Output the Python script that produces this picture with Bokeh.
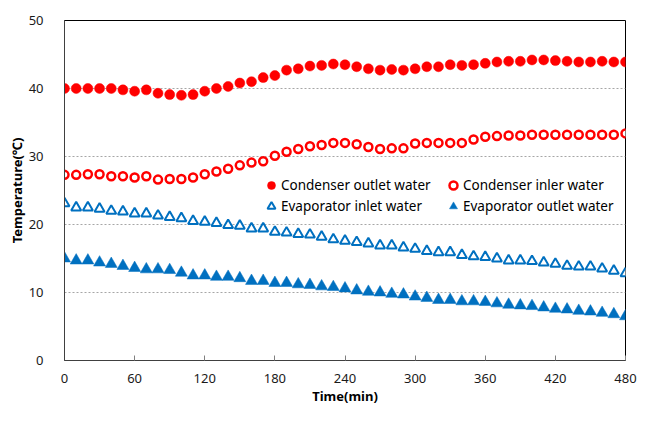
from bokeh.plotting import figure
from bokeh.models import ColumnDataSource, Legend, LegendItem, FixedTicker, Range1d
from bokeh.embed import file_html
from bokeh.resources import INLINE

time_min = [0, 10, 20, 30, 40, 50, 60, 70, 80, 90, 100, 110, 120, 130, 140, 150, 160,
            170, 180, 190, 200, 210, 220, 230, 240, 250, 260, 270, 280, 290, 300, 310,
            320, 330, 340, 350, 360, 370, 380, 390, 400, 410, 420, 430, 440, 450, 460,
            470, 480]

cond_outlet = [40.0, 40.0, 40.0, 40.0, 40.0, 39.8, 39.6, 39.8, 39.3, 39.1, 39.0, 39.1,
               39.6, 40.0, 40.3, 40.8, 41.0, 41.6, 41.9, 42.7, 42.9, 43.3, 43.4, 43.6,
               43.5, 43.2, 42.9, 42.7, 42.8, 42.7, 42.9, 43.2, 43.2, 43.5, 43.4, 43.5,
               43.7, 43.9, 44.0, 44.0, 44.2, 44.2, 44.1, 44.0, 43.9, 43.9, 44.0, 43.9,
               43.9]

cond_inlet = [27.3, 27.3, 27.4, 27.4, 27.1, 27.1, 26.9, 27.1, 26.6, 26.7, 26.7, 26.9,
              27.4, 27.8, 28.2, 28.7, 29.1, 29.3, 30.1, 30.7, 31.1, 31.5, 31.7, 32.0,
              32.0, 31.8, 31.4, 31.1, 31.2, 31.2, 31.9, 32.0, 32.0, 32.0, 32.0, 32.5,
              32.9, 33.0, 33.1, 33.1, 33.2, 33.2, 33.2, 33.2, 33.2, 33.2, 33.2, 33.2,
              33.4]

evap_inlet = [23.1, 22.5, 22.5, 22.3, 22.0, 21.9, 21.6, 21.6, 21.3, 21.1, 20.9, 20.5,
              20.4, 20.2, 19.9, 19.8, 19.4, 19.4, 18.9, 18.8, 18.6, 18.5, 18.2, 17.8,
              17.6, 17.4, 17.2, 16.9, 16.9, 16.6, 16.4, 16.1, 15.9, 15.9, 15.5, 15.3,
              15.2, 15.0, 14.7, 14.7, 14.6, 14.4, 14.2, 13.9, 13.8, 13.8, 13.5, 13.2,
              12.8]

evap_outlet = [15.0, 14.7, 14.7, 14.4, 14.2, 13.9, 13.6, 13.4, 13.4, 13.3, 12.9, 12.5,
               12.5, 12.3, 12.3, 12.1, 11.7, 11.7, 11.4, 11.4, 11.2, 11.1, 10.9, 10.8,
               10.6, 10.3, 10.1, 10.0, 9.8, 9.7, 9.4, 9.2, 8.9, 8.9, 8.7, 8.7, 8.6, 8.4,
               8.2, 8.1, 8.0, 7.8, 7.6, 7.5, 7.3, 7.2, 7.0, 6.8, 6.5]

x_ticks = [0, 60, 120, 180, 240, 300, 360, 420, 480]
y_ticks = [0, 10, 20, 30, 40, 50]

labels = ["Condenser outlet water", "Condenser inler water",
          "Evaporator inlet water", "Evaporator outlet water"]

RED = "#FF0000"
BLUE = "#0070C0"
FONT = "Noto Sans"

src = ColumnDataSource(dict(t=time_min, co=cond_outlet, ci=cond_inlet,
                            ei=evap_inlet, eo=evap_outlet))

p = figure(width=637, height=410, output_backend="svg", toolbar_location=None,
           x_range=Range1d(0, 480), y_range=Range1d(0, 50),
           min_border_left=64, min_border_right=12, min_border_top=20,
           min_border_bottom=50)

p.background_fill_color = "white"
p.border_fill_color = "white"
p.outline_line_color = "#000000"
p.outline_line_width = 1

r_co = p.scatter("t", "co", source=src, marker="circle", size=10,
                 fill_color=RED, line_color=RED, line_width=0.5)
r_ci = p.scatter("t", "ci", source=src, marker="circle", size=8,
                 fill_color="white", line_color=RED, line_width=2.5)
r_ei = p.scatter("t", "ei", source=src, marker="triangle", size=10,
                 fill_color="white", line_color=BLUE, line_width=2)
r_eo = p.scatter("t", "eo", source=src, marker="triangle", size=12,
                 fill_color=BLUE, line_color=BLUE, line_width=0.5)

p.xaxis.ticker = FixedTicker(ticks=x_ticks)
p.yaxis.ticker = FixedTicker(ticks=y_ticks)
p.xaxis.axis_label = "Time(min)"
p.yaxis.axis_label = "Temperature(℃)"
for ax in (p.xaxis[0], p.yaxis[0]):
    ax.axis_line_color = "#404040"
    ax.axis_line_width = 1
    ax.major_label_text_font = FONT
    ax.major_label_text_font_size = "13px"
    ax.major_label_text_color = "#1a1a1a"
    ax.axis_label_text_font = FONT
    ax.axis_label_text_font_size = "13px"
    ax.axis_label_text_font_style = "bold"
    ax.axis_label_text_color = "#000000"
    ax.minor_tick_line_color = None

p.xaxis.major_tick_in = 5
p.xaxis.major_tick_out = 0
p.xaxis.major_tick_line_color = "#808080"
p.xaxis.major_label_standoff = 13
p.xaxis.axis_label_standoff = 1

p.yaxis.major_tick_line_color = None
p.yaxis.major_label_standoff = 15
p.yaxis.axis_label_standoff = 0

p.xgrid.grid_line_color = None
p.ygrid.grid_line_color = "#A6A6A6"
p.ygrid.grid_line_dash = "2 2"
p.ygrid.grid_line_width = 1

def make_legend(items, loc):
    lg = Legend(items=items, location=loc, orientation="vertical",
                padding=0, spacing=1, margin=0,
                glyph_width=20, glyph_height=20, label_standoff=0,
                label_text_font=FONT, label_text_font_size="13.5px",
                label_text_color="#000000", label_height=20,
                border_line_color=None, background_fill_alpha=0)
    return lg

lg1 = make_legend([LegendItem(label=labels[0], renderers=[r_co]),
                   LegendItem(label=labels[2], renderers=[r_ei])], (197, 144))
lg2 = make_legend([LegendItem(label=labels[1], renderers=[r_ci]),
                   LegendItem(label=labels[3], renderers=[r_eo])], (379, 144))
p.add_layout(lg1, "center")
p.add_layout(lg2, "center")

open("out.html", "w").write(file_html(p, INLINE))
